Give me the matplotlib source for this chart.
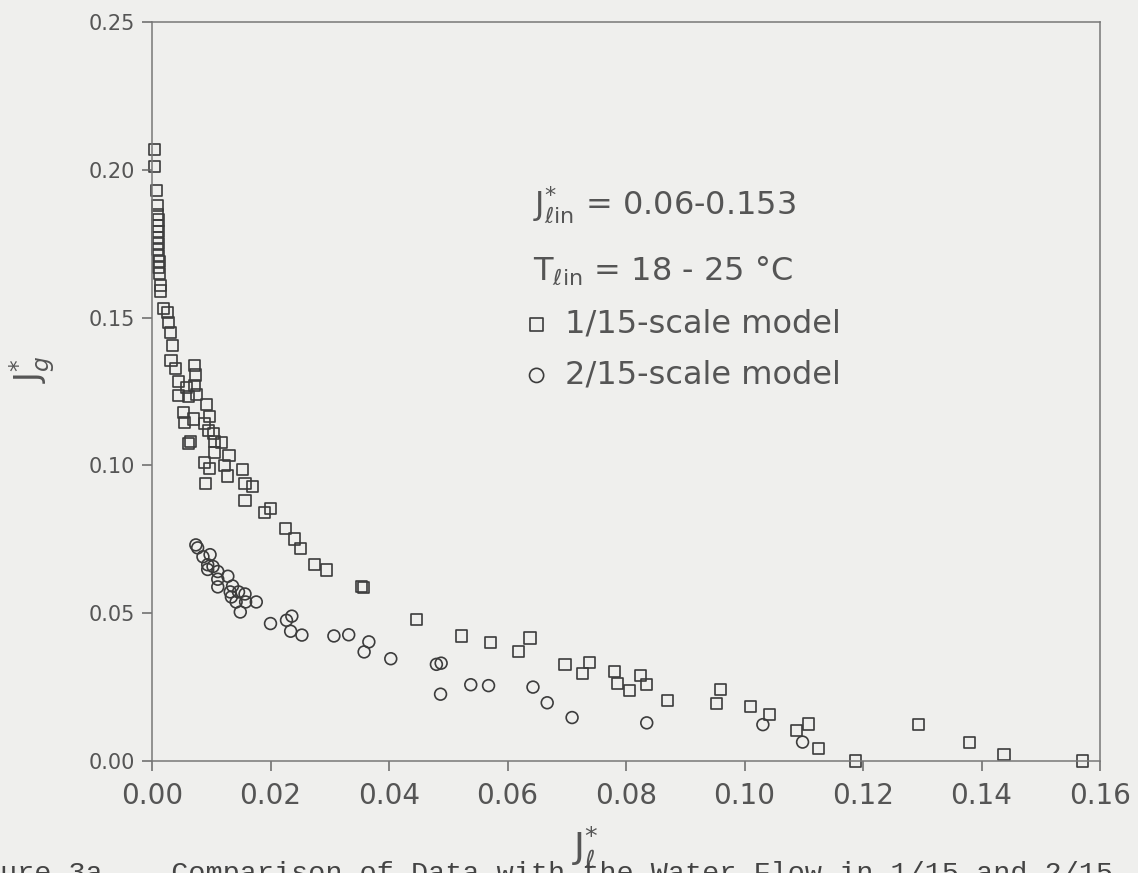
import matplotlib
matplotlib.use("Agg")
import matplotlib.pyplot as plt

plt.rcParams['font.family'] = ['DejaVu Sans']
plt.rcParams['mathtext.fontset'] = 'dejavusans'

# 1/15-scale model (squares)
sq_x = [0.0004, 0.0004, 0.0007, 0.0009,
        0.0010, 0.0011, 0.0010, 0.0011, 0.0010, 0.0011, 0.0010, 0.0011, 0.0012, 0.0011, 0.0012,
        0.0014, 0.0015,
        0.0019, 0.0026, 0.0028, 0.0031, 0.0035, 0.0032, 0.0040, 0.0071, 0.0074, 0.0044,
        0.0058, 0.0071, 0.0044, 0.0061, 0.0075, 0.0092, 0.0053, 0.0097, 0.0070, 0.0055,
        0.0088, 0.0095, 0.0104, 0.0062, 0.0065, 0.0106, 0.0118, 0.0106, 0.0130, 0.0088,
        0.0097, 0.0123, 0.0127, 0.0152, 0.0090, 0.0157, 0.0169, 0.0157, 0.0190, 0.0200,
        0.0226, 0.0241, 0.0250, 0.0275, 0.0294, 0.0353, 0.0357, 0.0446, 0.0523, 0.0572,
        0.0619, 0.0638, 0.0697, 0.0738, 0.0726, 0.0780, 0.0785, 0.0806, 0.0825, 0.0835,
        0.0870, 0.0959, 0.0953, 0.1010, 0.1042, 0.1088, 0.1108, 0.1125, 0.1188, 0.1293,
        0.1379, 0.1438, 0.1570]
sq_y = [0.207, 0.201, 0.193, 0.188,
        0.185, 0.183, 0.181, 0.179, 0.177, 0.175, 0.173, 0.171, 0.169, 0.167, 0.165,
        0.161, 0.159,
        0.1530, 0.1517, 0.1484, 0.1450, 0.1406, 0.1355, 0.1329, 0.1339, 0.1306, 0.1285,
        0.1263, 0.1269, 0.1237, 0.1232, 0.1239, 0.1205, 0.1179, 0.1166, 0.1157, 0.1146,
        0.1141, 0.1117, 0.1108, 0.1073, 0.1080, 0.1080, 0.1076, 0.1043, 0.1033, 0.1011,
        0.0989, 0.1001, 0.0964, 0.0986, 0.0939, 0.0938, 0.0929, 0.0882, 0.0842, 0.0853,
        0.0787, 0.0751, 0.0718, 0.0665, 0.0646, 0.0590, 0.0587, 0.0479, 0.0423, 0.0401,
        0.0371, 0.0416, 0.0325, 0.0333, 0.0296, 0.0304, 0.0263, 0.0237, 0.0288, 0.0260,
        0.0204, 0.0243, 0.0196, 0.0183, 0.0157, 0.0104, 0.0125, 0.0041, 0.0000, 0.0122,
        0.0063, 0.0023, 0.0000]

# 2/15-scale model (circles)
ci_x = [0.0074, 0.0077, 0.0086, 0.0098, 0.0094, 0.0103, 0.0111, 0.0094, 0.0128, 0.0111,
        0.0136, 0.0111, 0.0132, 0.0146, 0.0134, 0.0157, 0.0142, 0.0176, 0.0158, 0.0149,
        0.0200, 0.0227, 0.0236, 0.0234, 0.0253, 0.0307, 0.0332, 0.0358, 0.0366, 0.0403,
        0.0480, 0.0488, 0.0487, 0.0538, 0.0568, 0.0643, 0.0667, 0.0709, 0.0835, 0.1031,
        0.1098]
ci_y = [0.0731, 0.0721, 0.0691, 0.0698, 0.0664, 0.0658, 0.0641, 0.0648, 0.0625, 0.0615,
        0.0592, 0.0589, 0.0572, 0.0572, 0.0555, 0.0565, 0.0538, 0.0538, 0.0538, 0.0504,
        0.0465, 0.0476, 0.0490, 0.0439, 0.0426, 0.0423, 0.0427, 0.0369, 0.0403, 0.0346,
        0.0327, 0.0331, 0.0226, 0.0258, 0.0255, 0.0250, 0.0197, 0.0147, 0.0129, 0.0123,
        0.0064]

x_ticks = [0.00, 0.02, 0.04, 0.06, 0.08, 0.10, 0.12, 0.14, 0.16]
y_ticks = [0.00, 0.05, 0.10, 0.15, 0.20, 0.25]

paper = '#efefed'
ink = '#3c3c3c'
txt = '#555555'

fig = plt.figure(figsize=(11.38, 8.73), dpi=100, facecolor=paper)
ax = fig.add_axes([152/1138, 112/873, 948/1138, 739/873], facecolor=paper)

ax.scatter(sq_x, sq_y, marker='s', s=64, facecolors='none', edgecolors=ink,
           linewidths=1.2, clip_on=False, label='1/15-scale model')
ax.scatter(ci_x, ci_y, marker='o', s=72, facecolors='none', edgecolors=ink,
           linewidths=1.2, clip_on=False, label='2/15-scale model')

ax.set_xlim(0, 0.16)
ax.set_ylim(0, 0.25)
ax.set_xticks(x_ticks)
ax.set_yticks(y_ticks)
ax.set_xticklabels([f'{v:.2f}' for v in x_ticks], fontsize=20, color=txt)
ax.set_yticklabels([f'{v:.2f}' for v in y_ticks], fontsize=15, color=txt)
ax.tick_params(axis='x', direction='out', length=7, width=1.1, color='#666666', pad=8)
ax.tick_params(axis='y', direction='out', length=7, width=1.1, color='#666666', pad=5)
for sp in ax.spines.values():
    sp.set_color('#777777')
    sp.set_linewidth(1.1)

ax.set_xlabel(r'$\mathrm{J}_{\ell}^{*}$', fontsize=26, color=txt)
ax.xaxis.set_label_coords(0.457, -0.085)
ax.set_ylabel(r'$\mathrm{J}_{g}^{*}$', fontsize=24, color=txt, rotation=90)
ax.yaxis.set_label_coords(-0.100, 0.53)

ax.text(533/1138, (873-215)/873, r'$\mathrm{J}^{*}_{\ell \mathrm{in}}$ = 0.06-0.153', transform=fig.transFigure,
        fontsize=23, color=txt, va='baseline')
ax.text(533/1138, (873-280)/873, r'$\mathrm{T}_{\ell \mathrm{in}}$ = 18 - 25 °C', transform=fig.transFigure,
        fontsize=23, color=txt, va='baseline')

ax.legend(loc='upper left', bbox_to_anchor=(527/1138, (873-309)/873), bbox_transform=fig.transFigure,
          frameon=False, fontsize=23, labelcolor=txt, handlelength=0.6, handletextpad=0.6,
          labelspacing=0.62, borderpad=0, borderaxespad=0, markerscale=1.2)

fig.text(0.0, (873-861)/873, 'ure 3a.   Comparison of Data with the Water Flow in 1/15 and 2/15',
         family='Liberation Mono', fontsize=20.5, color='#444444', va='top')

fig.savefig('out.png', dpi=100, facecolor=paper)
